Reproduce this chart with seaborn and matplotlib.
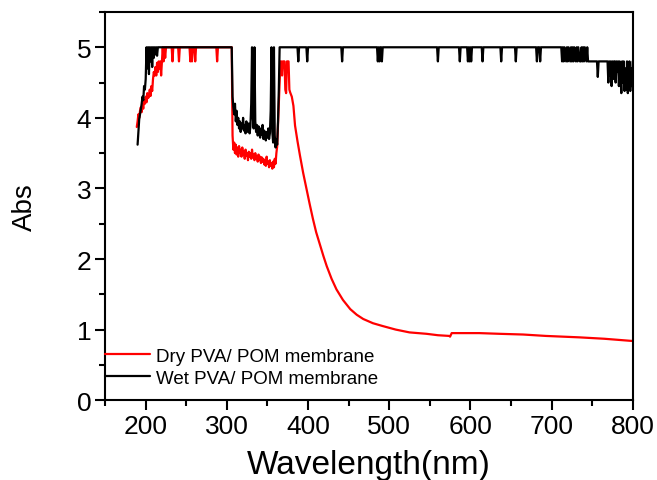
import matplotlib
matplotlib.use("Agg")
import matplotlib.pyplot as plt
from matplotlib.ticker import MultipleLocator
import seaborn as sns

# ----------------------------------------------
# dades llegides de la figura (nm, Abs)

dry_wl = [189, 190, 191, 192, 193, 194, 195, 196, 197, 198, 199, 200, 201, 202, 203, 204,
	205, 206, 207, 208, 209, 210, 211, 212, 213, 214, 215, 216, 217, 218, 219, 220, 221,
	222, 223, 224, 225, 232, 233, 234, 240, 241, 242, 254, 255, 256, 257, 258, 260, 261,
	262, 287, 288, 289, 306,
	307, 308, 309, 310, 311, 312, 313, 314, 315, 316, 317, 318, 319, 320, 321, 322, 323,
	324, 325, 326, 327, 328, 329, 330, 331, 332, 333, 334, 335, 336, 337, 338, 339, 340,
	341, 342, 343, 344, 345, 346, 347, 348, 349, 350, 351, 352, 353, 354, 355, 356, 357,
	358, 359, 360, 361, 362, 363, 364, 365, 366, 367, 368, 369, 370, 371, 372, 373, 374,
	375, 376, 377, 378, 380, 382, 384, 387, 390, 394, 398, 402, 406, 410, 415, 419, 423,
	429, 435, 443, 452, 460, 468, 480, 492, 508, 525, 546, 560, 574, 575, 577, 611, 636,
	665, 693, 734, 765, 798, 800]
dry_abs = [3.87, 3.95, 4.05, 4.00, 4.10, 4.15, 4.08, 4.20, 4.13, 4.25, 4.20, 4.30, 4.22,
	4.35, 4.28, 4.30, 4.40, 4.31, 4.45, 4.38, 4.55, 4.65, 4.60, 4.72, 4.60, 4.78, 4.65,
	4.80, 4.70, 4.80, 4.60, 4.80, 5.00, 4.80, 5.00, 4.85, 5.00, 5.00, 4.80, 5.00, 5.00,
	4.80, 5.00, 5.00, 4.80, 5.00, 4.80, 5.00, 5.00, 4.80, 5.00, 5.00, 4.80, 5.00, 5.00,
	3.75, 3.55, 3.65, 3.50, 3.62, 3.48, 3.58, 3.45, 3.60, 3.50, 3.55, 3.45, 3.58, 3.48,
	3.52, 3.42, 3.55, 3.46, 3.50, 3.40, 3.52, 3.45, 3.50, 3.42, 3.55, 3.44, 3.48, 3.40,
	3.50, 3.42, 3.46, 3.38, 3.48, 3.40, 3.45, 3.36, 3.44, 3.38, 3.42, 3.34, 3.40, 3.32,
	3.45, 3.35, 3.38, 3.30, 3.40, 3.32, 3.36, 3.28, 3.38, 3.30, 3.42, 3.35, 3.50, 3.60,
	3.90, 4.20, 4.50, 4.80, 4.80, 4.60, 4.80, 4.80, 4.80, 4.40, 4.35, 4.80, 4.80, 4.80,
	4.40, 4.36, 4.30, 4.17, 3.89, 3.67, 3.47, 3.22, 3.00, 2.78, 2.57, 2.38, 2.19, 2.04,
	1.90, 1.72, 1.57, 1.42, 1.29, 1.21, 1.15, 1.09, 1.05, 1.00, 0.96, 0.94, 0.92, 0.91,
	0.90, 0.95, 0.95, 0.94, 0.93, 0.91, 0.89, 0.87, 0.84, 0.84]

wet_wl = [190, 191, 192, 193, 194, 195, 196, 197, 198, 199, 200, 201, 202, 203, 204, 205,
	206, 207, 208, 209, 210, 211, 212, 213, 214, 215, 306,
	307, 308, 309, 310, 311, 312, 313, 314, 315, 316, 317, 318, 319, 320, 321, 322, 323,
	324, 325, 326, 327, 328, 329, 330, 331, 332, 333, 334, 335, 336, 337, 338, 339, 340,
	341, 342, 343, 344, 345, 346, 347, 348, 349, 350, 351, 352, 353, 354, 355, 356, 357,
	358, 359, 360, 361, 362, 363, 364, 365,
	387, 388, 389, 398, 399, 400, 441, 442, 443, 485, 486, 487, 488, 489, 490, 491, 492,
	559, 560, 561, 586, 587, 588, 596, 597, 598, 599, 600, 601, 602, 614, 615, 616, 637,
	638, 639, 655, 656, 657, 681, 682, 683, 685, 686, 687, 712, 713, 714, 715, 716, 718,
	719, 720, 721, 723, 724, 725, 726, 727, 728, 730, 731, 732, 733, 735, 736, 737, 738,
	739, 740, 741, 743, 744, 745, 746, 756, 757, 758, 769, 770, 771, 772, 773, 774, 775,
	776, 777, 778, 779, 780, 781, 782, 783, 784, 785, 786, 787, 788, 789, 790, 791, 792,
	793, 794, 795, 796, 797, 798, 799, 800]
wet_abs = [3.62, 3.80, 3.98, 4.05, 4.12, 4.20, 4.30, 4.25, 4.45, 4.40, 4.55, 5.00, 4.70,
	5.00, 4.62, 5.00, 4.80, 5.00, 4.72, 5.00, 4.85, 5.00, 4.90, 5.00, 4.88, 5.00, 5.00,
	4.30, 4.15, 4.05, 4.20, 3.95, 4.10, 3.90, 4.00, 3.85, 3.95, 3.80, 3.92, 3.85, 4.00,
	3.82, 3.90, 3.78, 3.95, 3.85, 3.80, 3.92, 3.78, 3.88, 4.20, 5.00, 4.00, 3.85, 5.00,
	3.95, 3.80, 3.90, 3.75, 3.88, 3.80, 3.72, 3.85, 3.76, 3.90, 3.70, 3.82, 3.75, 3.68,
	3.80, 3.72, 3.85, 3.70, 3.78, 4.10, 5.00, 3.80, 3.65, 5.00, 3.75, 3.58, 3.70, 3.62,
	3.95, 4.40, 5.00,
	5.00, 4.80, 5.00, 5.00, 4.80, 5.00, 5.00, 4.80, 5.00, 5.00, 4.80, 5.00, 4.80, 5.00,
	5.00, 4.80, 5.00, 5.00, 4.80, 5.00, 5.00, 4.80, 5.00, 5.00, 4.80, 5.00, 4.80, 5.00,
	4.80, 5.00, 5.00, 4.80, 5.00, 5.00, 4.80, 5.00, 5.00, 4.80, 5.00, 5.00, 4.80, 5.00,
	5.00, 4.80, 5.00, 5.00, 4.80, 5.00, 4.80, 5.00, 4.80, 5.00, 4.80, 5.00, 4.80, 5.00,
	4.80, 5.00, 4.80, 5.00, 4.80, 5.00, 4.80, 5.00, 4.80, 4.80, 5.00, 4.80, 5.00, 4.80,
	5.00, 4.80, 5.00, 4.80, 4.80, 4.80, 4.58, 4.80, 4.80, 4.50, 4.80, 4.60, 4.80, 4.45,
	4.80, 4.55, 4.80, 4.80, 4.50, 4.80, 4.65, 4.80, 4.45, 4.80, 4.60, 4.35, 4.80, 4.50,
	4.80, 4.38, 4.70, 4.40, 4.80, 4.35, 4.60, 4.80, 4.38, 4.70, 4.45, 4.80]

labels = ["Dry PVA/ POM membrane", "Wet PVA/ POM membrane"]

# ----------------------------------------------

sns.set_style("ticks")
plt.rcParams['font.family'] = ['Liberation Sans', 'DejaVu Sans']
plt.rcParams['text.color'] = 'black'
plt.rcParams['axes.labelcolor'] = 'black'

fig = plt.figure(figsize=(6.57, 4.81), dpi=100)
ax = fig.add_axes([0.160, 0.166, 0.803, 0.807])

sns.lineplot(x=dry_wl, y=dry_abs, color="#ff0000", lw=1.6, estimator=None,
	label=labels[0], ax=ax)
sns.lineplot(x=wet_wl, y=wet_abs, color="black", lw=1.6, estimator=None,
	label=labels[1], ax=ax)

ax.set_xlim(150, 800)
ax.set_ylim(0, 5.5)
ax.xaxis.set_major_locator(MultipleLocator(100))
ax.xaxis.set_minor_locator(MultipleLocator(50))
ax.yaxis.set_major_locator(MultipleLocator(1))
ax.yaxis.set_minor_locator(MultipleLocator(0.5))
ax.set_xticks([200, 300, 400, 500, 600, 700, 800])

for s in ax.spines.values():
	s.set_linewidth(1.5)
	s.set_color("black")
	s.set_visible(True)

ax.tick_params(which="major", direction="out", length=7, width=1.5, labelsize=19,
	colors="black", pad=3)
ax.tick_params(which="minor", direction="out", length=4, width=1.5, colors="black")
ax.tick_params(top=False, right=False, which="both")

ax.set_xlabel("Wavelength(nm)", fontsize=24, labelpad=8)
ax.set_ylabel("Abs", fontsize=20, labelpad=28)

leg = ax.legend(loc="lower left", bbox_to_anchor=(0, 0.035), borderaxespad=0, borderpad=0,
	frameon=False, fontsize=13.5, handlelength=2.4, handletextpad=0.3, labelspacing=0.25)
for t in leg.get_texts():
	t.set_color("black")

plt.savefig("out.png", dpi=100)
